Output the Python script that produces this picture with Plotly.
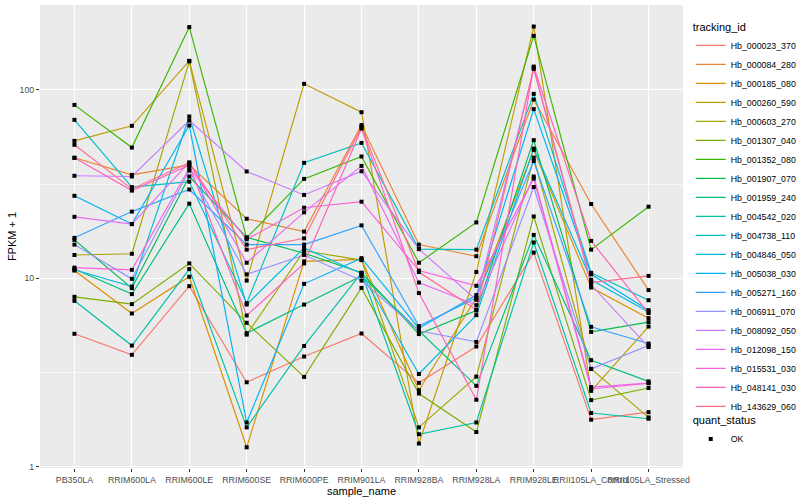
import plotly.graph_objects as go

samples = ["PB350LA", "RRIM600LA", "RRIM600LE", "RRIM600SE", "RRIM600PE", "RRIM901LA",
           "RRIM928BA", "RRIM928LA", "RRIM928LE", "RRII105LA_Control", "RRII105LA_Stressed"]

tracking_ids = ["Hb_000023_370", "Hb_000084_280", "Hb_000185_080", "Hb_000260_590", "Hb_000603_270",
                "Hb_001307_040", "Hb_001352_080", "Hb_001907_070", "Hb_001959_240", "Hb_004542_020",
                "Hb_004738_110", "Hb_004846_050", "Hb_005038_030", "Hb_005271_160", "Hb_006911_070",
                "Hb_008092_050", "Hb_012098_150", "Hb_015531_030", "Hb_048141_030", "Hb_143629_060"]

colors = ["#F8766D", "#EA8331", "#D89000", "#C09B00", "#A3A500", "#7CAE00", "#39B600", "#00BB4E",
          "#00BF7D", "#00C1A3", "#00BFC4", "#00BAE0", "#00B0F6", "#35A2FF", "#9590FF", "#C77CFF",
          "#E76BF3", "#FA62DB", "#FF62BC", "#FF6C90"]

Hb_000023_370 = [5.08, 3.93, 9.09, 2.81, 3.85, 5.10, 2.79, 4.35, 13.7, 1.78, 1.95]
Hb_000084_280 = [43.6, 35.4, 40.0, 20.7, 17.7, 65.0, 15.1, 13.1, 88.8, 24.8, 8.66]
Hb_000185_080 = [11.0, 6.51, 10.2, 1.27, 12.3, 12.6, 2.55, 7.88, 48.0, 8.94, 6.15]
Hb_000260_590 = [53.6, 64.4, 142.5, 9.73, 107.6, 76.1, 1.33, 10.8, 216.7, 2.53, 5.55]
Hb_000603_270 = [13.3, 13.5, 141.6, 5.03, 14.0, 12.5, 1.62, 3.01, 43.7, 3.31, 1.83]
Hb_001307_040 = [7.98, 7.30, 12.0, 5.81, 3.00, 8.90, 2.45, 1.53, 21.3, 2.26, 2.62]
Hb_001352_080 = [83.2, 49.4, 215.1, 16.4, 33.7, 44.3, 12.1, 19.8, 193.4, 14.2, 24.0]
Hb_001907_070 = [16.0, 8.87, 34.7, 16.5, 13.6, 10.7, 5.06, 6.75, 54.1, 5.20, 5.86]
Hb_001959_240 = [11.2, 8.25, 24.9, 5.12, 7.26, 10.3, 5.27, 2.69, 17.0, 3.68, 2.84]
Hb_004542_020 = [7.60, 4.40, 11.2, 1.62, 4.38, 10.7, 1.49, 1.72, 15.5, 1.93, 1.80]
Hb_004738_110 = [69.3, 30.5, 32.6, 7.39, 41.0, 52.3, 14.3, 14.2, 95.2, 10.7, 7.66]
Hb_004846_050 = [11.1, 9.05, 72.2, 7.26, 14.5, 10.6, 3.11, 6.38, 48.8, 9.82, 6.62]
Hb_005038_030 = [27.4, 19.4, 64.7, 1.72, 9.35, 12.8, 5.44, 8.15, 79.0, 10.5, 6.78]
Hb_005271_160 = [16.4, 22.6, 29.6, 15.1, 15.1, 19.1, 5.58, 7.88, 41.9, 5.53, 4.51]
Hb_006911_070 = [15.1, 9.94, 37.3, 10.5, 13.3, 9.73, 5.27, 4.60, 30.5, 3.31, 4.40]
Hb_008092_050 = [35.0, 34.7, 68.7, 36.9, 27.7, 37.0, 14.3, 7.69, 129.2, 9.24, 4.32]
Hb_012098_150 = [21.2, 19.4, 41.2, 12.1, 22.4, 39.5, 9.50, 7.21, 34.7, 2.65, 2.78]
Hb_015531_030 = [11.4, 11.1, 38.4, 16.1, 23.7, 25.5, 11.0, 9.13, 33.8, 2.59, 2.78]
Hb_048141_030 = [43.6, 29.2, 39.8, 6.35, 12.0, 62.3, 8.35, 2.27, 132.9, 15.8, 6.54]
Hb_143629_060 = [51.1, 29.8, 41.0, 14.2, 16.3, 63.6, 10.8, 6.81, 130.8, 9.50, 10.3]

series = [Hb_000023_370, Hb_000084_280, Hb_000185_080, Hb_000260_590, Hb_000603_270,
          Hb_001307_040, Hb_001352_080, Hb_001907_070, Hb_001959_240, Hb_004542_020,
          Hb_004738_110, Hb_004846_050, Hb_005038_030, Hb_005271_160, Hb_006911_070,
          Hb_008092_050, Hb_012098_150, Hb_015531_030, Hb_048141_030, Hb_143629_060]

y_ticks = [1, 10, 100]
y_minor = [3.1623, 31.623]

FONT = "Liberation Sans, Arial, sans-serif"

fig = go.Figure()
for name, vals, col in zip(tracking_ids, series, colors):
    fig.add_trace(go.Scatter(x=samples, y=vals, mode="lines", name=name,
                             line=dict(color=col, width=1.15), legend="legend"))

all_x = [s for vals in series for s in samples]
all_y = [v for vals in series for v in vals]
fig.add_trace(go.Scatter(x=all_x, y=all_y, mode="markers", name="OK",
                         marker=dict(symbol="square", size=4, color="black"),
                         legend="legend2"))

fig.update_layout(
    width=800, height=500,
    margin=dict(l=40, r=117, t=5, b=32, autoexpand=False),
    paper_bgcolor="white", plot_bgcolor="#EBEBEB",
    font=dict(family=FONT, size=9, color="#4D4D4D"),
    legend=dict(title=dict(text="tracking_id", font=dict(size=11, color="black")),
                x=1.012, xanchor="left", y=0.975, yanchor="top",
                itemwidth=30, tracegroupgap=0,
                font=dict(size=8.8, color="black"), bgcolor="rgba(0,0,0,0)"),
    legend2=dict(title=dict(text="quant_status", font=dict(size=11, color="black")),
                 x=1.012, xanchor="left", y=0.125, yanchor="top",
                 itemwidth=30,
                 font=dict(size=8.8, color="black"), bgcolor="rgba(0,0,0,0)"),
    xaxis=dict(type="category", categoryorder="array", categoryarray=samples,
               range=[-0.6, 10.6], showgrid=True, gridcolor="white", gridwidth=1.1,
               ticks="outside", ticklen=3, tickcolor="#333333", tickangle=0,
               tickfont=dict(size=8.8, color="#4D4D4D"), zeroline=False, automargin=False,
               title=dict(text="sample_name", font=dict(size=11, color="black"), standoff=0)),
    yaxis=dict(type="log", range=[-0.006, 2.45], tickvals=y_ticks, ticktext=[str(t) for t in y_ticks],
               showgrid=True, gridcolor="white", gridwidth=1.1,
               minor=dict(tickvals=y_minor, showgrid=True, gridcolor="#F7F7F7", gridwidth=0.55, ticks=""),
               ticks="outside", ticklen=3, tickcolor="#333333", automargin=False,
               tickfont=dict(size=8.8, color="#4D4D4D"), zeroline=False,
               title=dict(text="FPKM + 1", font=dict(size=11, color="black"), standoff=0)),
)

fig.write_html("out.html", config={"displayModeBar": False},
               post_script="document.body.style.margin='0px';")
